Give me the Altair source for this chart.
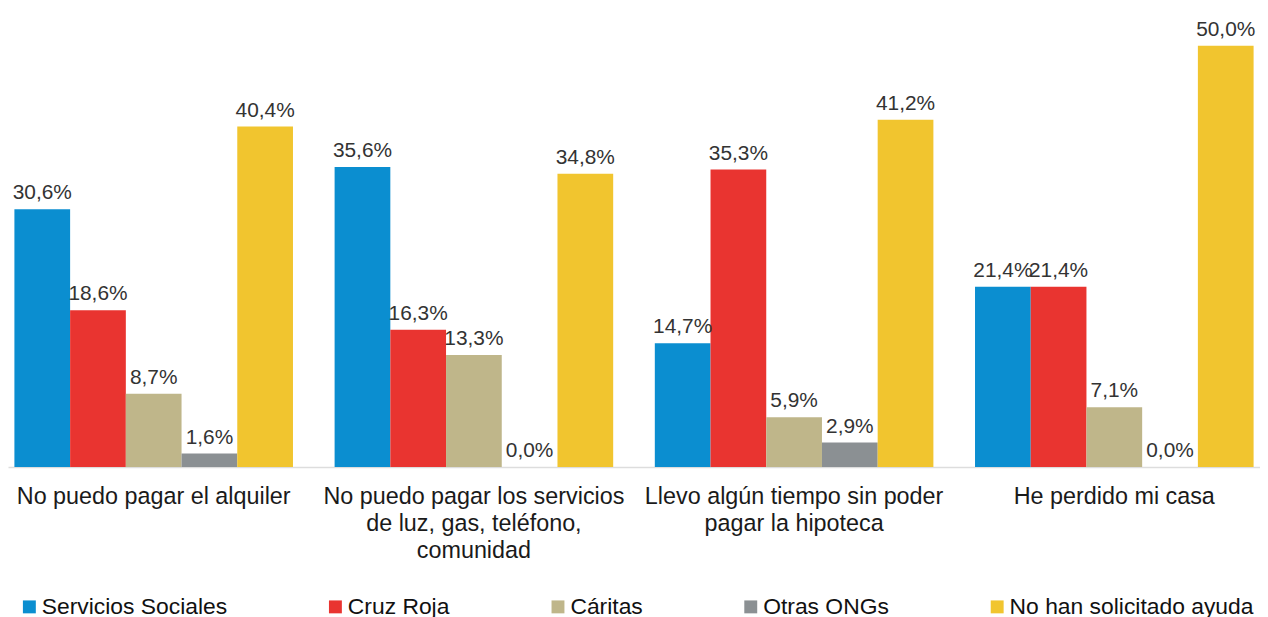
import altair as alt
import pandas as pd

categories = [
    "No puedo pagar el alquiler",
    "No puedo pagar los servicios|de luz, gas, teléfono,|comunidad",
    "Llevo algún tiempo sin poder|pagar la hipoteca",
    "He perdido mi casa",
]
series = ["Servicios Sociales", "Cruz Roja", "Cáritas", "Otras ONGs", "No han solicitado ayuda"]
servicios_sociales = [30.6, 35.6, 14.7, 21.4]
cruz_roja = [18.6, 16.3, 35.3, 21.4]
caritas = [8.7, 13.3, 5.9, 7.1]
otras_ongs = [1.6, 0.0, 2.9, 0.0]
no_ayuda = [40.4, 34.8, 41.2, 50.0]
colors = ["#0b8ed0", "#e93430", "#bfb68a", "#8b9093", "#f1c52f"]

all_values = [servicios_sociales, cruz_roja, caritas, otras_ongs, no_ayuda]
rows = []
for s, vals in zip(series, all_values):
    for c, v in zip(categories, vals):
        rows.append({"cat": c, "serie": s, "valor": v})
df = pd.DataFrame(rows)

FONT = "Liberation Sans"

x_enc = alt.X(
    "cat:N",
    sort=categories,
    scale=alt.Scale(paddingInner=0.13, paddingOuter=0.02),
    axis=alt.Axis(
        title=None,
        labelAngle=0,
        ticks=False,
        labelPadding=18,
        labelFont=FONT,
        labelFontSize=23.5,
        labelColor="#1a1a1a",
        labelLineHeight=27,
        labelExpr="split(datum.label, '|')",
        domainColor="#dddddd",
        domainWidth=1.5,
        labelLimit=400,
    ),
)
xoff = alt.XOffset("serie:N", sort=series, scale=alt.Scale(paddingInner=0, paddingOuter=0))
y_enc = alt.Y("valor:Q", scale=alt.Scale(domain=[0, 50], nice=False), axis=None)

bars = alt.Chart(df).mark_bar().encode(
    x=x_enc,
    xOffset=xoff,
    y=y_enc,
    color=alt.Color(
        "serie:N",
        sort=series,
        scale=alt.Scale(domain=series, range=colors),
        legend=alt.Legend(
            orient="none",
            legendX=10,
            legendY=553,
            direction="horizontal",
            title=None,
            symbolType="square",
            symbolSize=169,
            symbolStrokeWidth=0,
            symbolOpacity=1,
            labelFont=FONT,
            labelFontSize=23,
            labelColor="#111111",
            labelOffset=1,
            columnPadding=97,
            padding=0,
            labelLimit=400,
        ),
    ),
)

labels = alt.Chart(df).transform_calculate(
    txt="replace(format(datum.valor, '.1f'), '.', ',') + '%'"
).mark_text(
    baseline="alphabetic", align="center", dy=-10, font=FONT, fontSize=21, color="#333333"
).encode(
    x=alt.X("cat:N", sort=categories),
    xOffset=xoff,
    y=y_enc,
    text="txt:N",
)

chart = alt.layer(bars, labels).properties(
    width=1260,
    height=424,
    padding={"left": 0, "top": 36, "right": 0, "bottom": 152},
    autosize=alt.AutoSizeParams(type="none"),
).configure_view(stroke=None)

chart.save("out.html", embed_options={"renderer": "svg", "actions": False})
